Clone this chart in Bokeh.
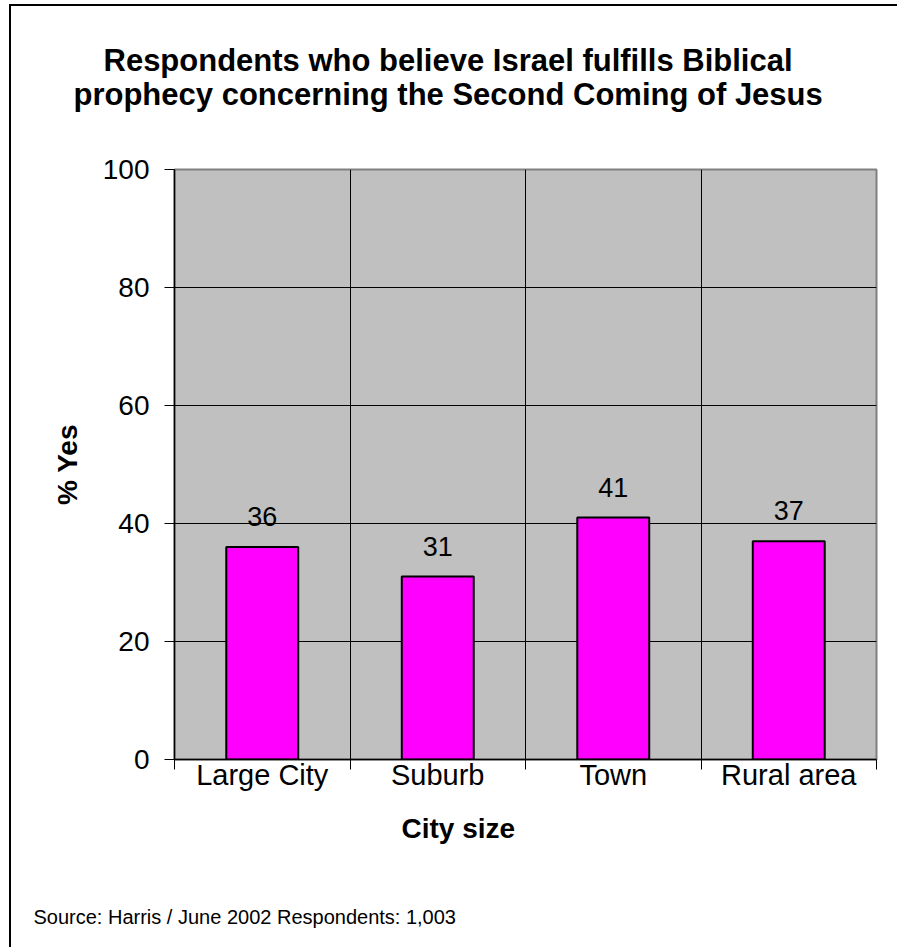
import math
from bokeh.plotting import figure
from bokeh.models import (Range1d, FixedTicker, ColumnDataSource, LabelSet, Title)
from bokeh.core.properties import value
from bokeh.embed import file_html
from bokeh.resources import INLINE

categories = ["Large City", "Suburb", "Town", "Rural area"]
yes_pct = [36, 31, 41, 37]
y_ticks = [0, 20, 40, 60, 80, 100]

title_lines = ["Respondents who believe Israel fulfills Biblical",
               "prophecy concerning the Second Coming of Jesus"]
x_title = "City size"
y_title = "% Yes"
source_note = "Source: Harris / June 2002 Respondents: 1,003"

FONT = "Liberation Sans"

W, H = 888, 943
p = figure(width=W, height=H, output_backend="svg", toolbar_location=None,
           x_range=Range1d(0, len(categories)), y_range=Range1d(0, 100),
           min_border_left=163, min_border_right=23, min_border_top=163,
           min_border_bottom=190)
p.styles = {"margin-left": "9px", "margin-top": "4px",
            "border-left": "2px solid black", "border-top": "2px solid black"}

p.background_fill_color = "#C0C0C0"
p.border_fill_color = "white"
p.outline_line_color = "#808080"
p.outline_line_width = 2

centers = [i + 0.5 for i in range(len(categories))]
src = ColumnDataSource(dict(x=centers, top=yes_pct,
                            lab=[str(v) for v in yes_pct]))
p.vbar(x="x", top="top", bottom=0, width=0.41, source=src,
       fill_color="#FF00FF", line_color="black", line_width=2)

labels = LabelSet(x="x", y="top", text="lab", source=src, y_offset=21,
                  text_align="center", text_baseline="alphabetic",
                  text_font=value(FONT), text_font_size=value("27px"), text_color="black")
p.add_layout(labels)

# grids
p.xgrid.ticker = FixedTicker(ticks=list(range(1, len(categories))))
p.xgrid.grid_line_color = "black"
p.xgrid.grid_line_width = 1
p.ygrid.ticker = FixedTicker(ticks=y_ticks[1:-1])
p.ygrid.grid_line_color = "black"
p.ygrid.grid_line_width = 1

# x axis
xa = p.xaxis[0]
xa.ticker = FixedTicker(ticks=centers, minor_ticks=list(range(0, len(categories) + 1)))
xa.major_label_overrides = {c: n for c, n in zip(centers, categories)}
xa.major_tick_line_color = None
xa.major_tick_out = 0
xa.major_tick_in = 0
xa.minor_tick_in = 0
xa.minor_tick_out = 10
xa.minor_tick_line_color = "black"
xa.axis_line_color = "black"
xa.axis_line_width = 1.5
xa.major_label_text_font = FONT
xa.major_label_text_font_size = "29px"
xa.major_label_text_color = "black"
xa.major_label_standoff = -11

ya = p.yaxis[0]
ya.ticker = FixedTicker(ticks=y_ticks)
ya.major_tick_in = 0
ya.major_tick_out = 10
ya.minor_tick_line_color = None
ya.major_tick_line_color = "black"
ya.axis_line_color = "black"
ya.axis_line_width = 1.5
ya.major_label_text_font = FONT
ya.major_label_text_font_size = "28px"
ya.major_label_text_color = "black"
ya.major_label_standoff = 15
ya.axis_label = y_title
ya.axis_label_text_font = FONT
ya.axis_label_text_font_size = "28px"
ya.axis_label_text_font_style = "bold"
ya.axis_label_text_color = "black"
ya.axis_label_standoff = 17

def make_title(text, size, bold, offset, standoff):
    return Title(text=text, align="left", offset=offset, standoff=standoff,
                 text_font=FONT, text_font_size=size,
                 text_font_style="bold" if bold else "normal",
                 text_color="black")

# above: first added is closest to the frame (a blank spacer first)
p.add_layout(make_title(" ", "10px", False, 0, 45), "above")
p.add_layout(make_title(title_lines[1], "31px", True, -101, 0), "above")
p.add_layout(make_title(title_lines[0], "31px", True, -71, -6), "above")

# below: after the x axis (blank spacer between the two texts)
p.add_layout(make_title(x_title, "28px", True, 227, 34), "below")
p.add_layout(make_title(" ", "10px", False, 0, 9), "below")
p.add_layout(make_title(source_note, "20px", False, -141, 42), "below")

open("out.html", "w").write(file_html(p, INLINE))
